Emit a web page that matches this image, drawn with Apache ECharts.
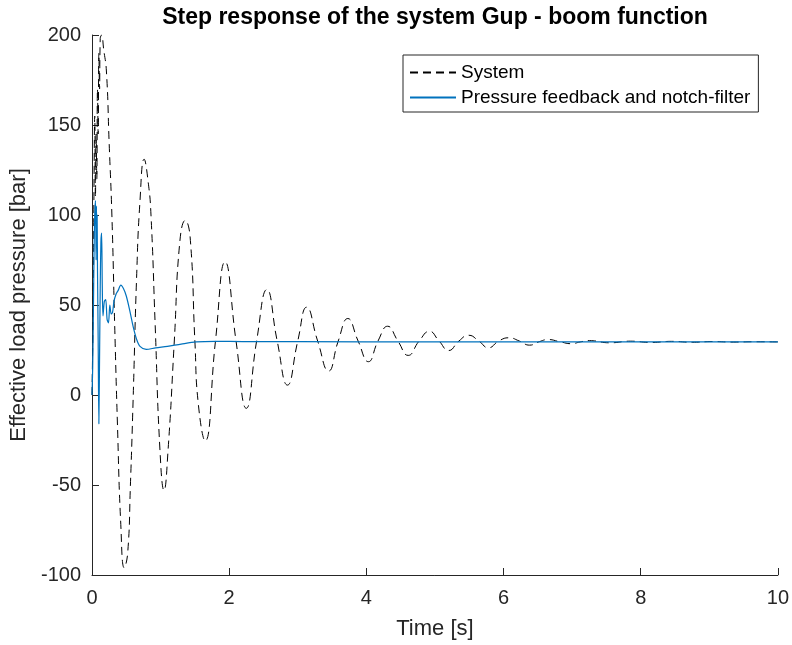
<!DOCTYPE html>
<html>
<head>
<meta charset="utf-8">
<script src="https://cdn.jsdelivr.net/npm/echarts@6/dist/echarts.min.js"></script>
<style>
  html, body { margin: 0; padding: 0; background: #fff; }
  #chart { width: 792px; height: 645px; }
</style>
</head>
<body>
<div id="chart"></div>
<script>
// axis ticks
const xTicks = [0, 2, 4, 6, 8, 10];
const yTicks = [-100, -50, 0, 50, 100, 150, 200];

// "System" (dashed black): [time s, pressure bar]
const systemTime = [
  0, 0.02, 0.03, 0.04, 0.05, 0.06, 0.07, 0.08, 0.09, 0.1, 0.11, 0.12, 0.14, 0.17, 0.21,
  0.25, 0.29, 0.33, 0.37, 0.42, 0.47, 0.52, 0.56, 0.6, 0.65, 0.7, 0.76, 0.82, 0.86, 0.92,
  0.99, 1.05, 1.11, 1.2, 1.28, 1.36, 1.43, 1.5, 1.55, 1.65, 1.8, 1.94, 2.1, 2.25, 2.4,
  2.55, 2.7, 2.85, 3.0, 3.13, 3.29, 3.45, 3.59, 3.73, 3.88, 4.03, 4.17, 4.31, 4.46, 4.61,
  4.77, 4.92, 5.06, 5.2, 5.35, 5.49, 5.64, 5.78, 5.93, 6.08, 6.23, 6.38, 6.52, 6.65, 6.82,
  6.99, 7.12, 7.25, 7.55, 7.85, 8.15, 8.45, 8.75, 9.05, 9.35, 9.65, 10
];
const systemValue = [
  0, 60, 120, 155, 110, 145, 120, 170, 145, 190, 170, 198, 200, 192, 180,
  140, 100, 40, -15, -72, -96, -88, -50, -2, 65, 108, 131, 118, 100, 40,
  -30, -53, -30, 30, 85, 97, 88, 30, -5, -25.5, 30, 74, 30, -7.4, 30,
  58.6, 30, 5.5, 30, 48.8, 30, 13.3, 30, 42.5, 30, 18.5, 30, 38.2, 30, 22,
  30, 35.4, 30, 24.7, 30, 33.2, 30, 26.2, 30, 31.8, 30, 27.7, 29.6, 30.8, 29.6,
  28.5, 29.5, 30.2, 29.0, 29.9, 29.2, 29.8, 29.3, 29.7, 29.4, 29.6, 29.5
];

// "Pressure feedback and notch-filter" (solid blue)
const feedbackTime = [
  0, 0.01, 0.02, 0.03, 0.04, 0.05, 0.055, 0.06, 0.065, 0.07, 0.075, 0.08, 0.09, 0.1, 0.11,
  0.12, 0.13, 0.14, 0.15, 0.16, 0.18, 0.2, 0.22, 0.24, 0.26, 0.28, 0.3, 0.32, 0.35, 0.38,
  0.42, 0.46, 0.5, 0.55, 0.6, 0.65, 0.7, 0.79, 0.93, 1.1, 1.3, 1.52, 1.8, 2.2, 3, 5, 10
];
const feedbackValue = [
  0, 15, 45, 80, 100, 108, 95, 75, 105, 85, 100, 70, 30, -16, 20,
  60, 85, 90, 60, 44, 52, 53, 42, 40, 50, 45, 46, 52, 56, 58,
  61, 59, 55, 47, 38, 31, 27, 25.3, 26.2, 27, 28.3, 29.5, 29.8, 29.7, 29.6, 29.5, 29.5
];

const zip = (xs, ys) => xs.map((x, i) => [x, ys[i]]);

const axisColor = '#262626';
const font = '"Liberation Sans", Arial, Helvetica, sans-serif';

const chart = echarts.init(document.getElementById('chart'), null, { renderer: 'canvas' });

const option = {
  animation: false,
  backgroundColor: '#fff',
  title: {
    text: 'Step response of the system Gup - boom function',
    left: 435,
    top: 6,
    textAlign: 'center',
    padding: 0,
    textStyle: { fontFamily: font, fontSize: 23, fontWeight: 'bold', color: '#000' }
  },
  legend: {
    orient: 'vertical',
    left: 403,
    top: 55,
    padding: [8, 8, 5, 6],
    itemGap: 6,
    itemWidth: 46,
    itemHeight: 14,
    borderColor: axisColor,
    borderWidth: 1,
    backgroundColor: '#fff',
    itemStyle: { opacity: 0 },
    textStyle: { fontFamily: font, fontSize: 19, color: '#000' },
    data: ['System', 'Pressure feedback and notch-filter']
  },
  grid: { left: 92, right: 14, top: 35, bottom: 69, containLabel: false },
  xAxis: {
    type: 'value',
    min: xTicks[0],
    max: xTicks[xTicks.length - 1],
    interval: 2,
    name: 'Time [s]',
    nameLocation: 'middle',
    nameGap: 43,
    nameTextStyle: { fontFamily: font, fontSize: 22, color: axisColor },
    axisLine: { onZero: false, lineStyle: { color: axisColor, width: 1 } },
    axisTick: { inside: true, length: 7, lineStyle: { color: axisColor } },
    axisLabel: { fontFamily: font, fontSize: 20, color: axisColor, margin: 13 },
    splitLine: { show: false }
  },
  yAxis: {
    type: 'value',
    min: yTicks[0],
    max: yTicks[yTicks.length - 1],
    interval: 50,
    name: 'Effective load pressure [bar]',
    nameLocation: 'middle',
    nameGap: 58,
    nameTextStyle: { fontFamily: font, fontSize: 22, color: axisColor },
    axisLine: { show: true, onZero: false, lineStyle: { color: axisColor, width: 1 } },
    axisTick: { show: true, inside: true, length: 7, lineStyle: { color: axisColor } },
    axisLabel: { fontFamily: font, fontSize: 20, color: axisColor, margin: 11 },
    splitLine: { show: false }
  },
  series: [
    {
      name: 'System',
      type: 'line',
      data: zip(systemTime, systemValue),
      showSymbol: false,
      symbol: 'none',
      smooth: 0.5,
      color: '#000',
      lineStyle: { color: '#000', width: 1, type: [8, 5] },
      z: 2
    },
    {
      name: 'Pressure feedback and notch-filter',
      type: 'line',
      data: zip(feedbackTime, feedbackValue),
      showSymbol: false,
      symbol: 'none',
      smooth: 0.3,
      color: '#0072BD',
      lineStyle: { color: '#0072BD', width: 1.2 },
      z: 3
    }
  ]
};

chart.setOption(option);
</script>
</body>
</html>
